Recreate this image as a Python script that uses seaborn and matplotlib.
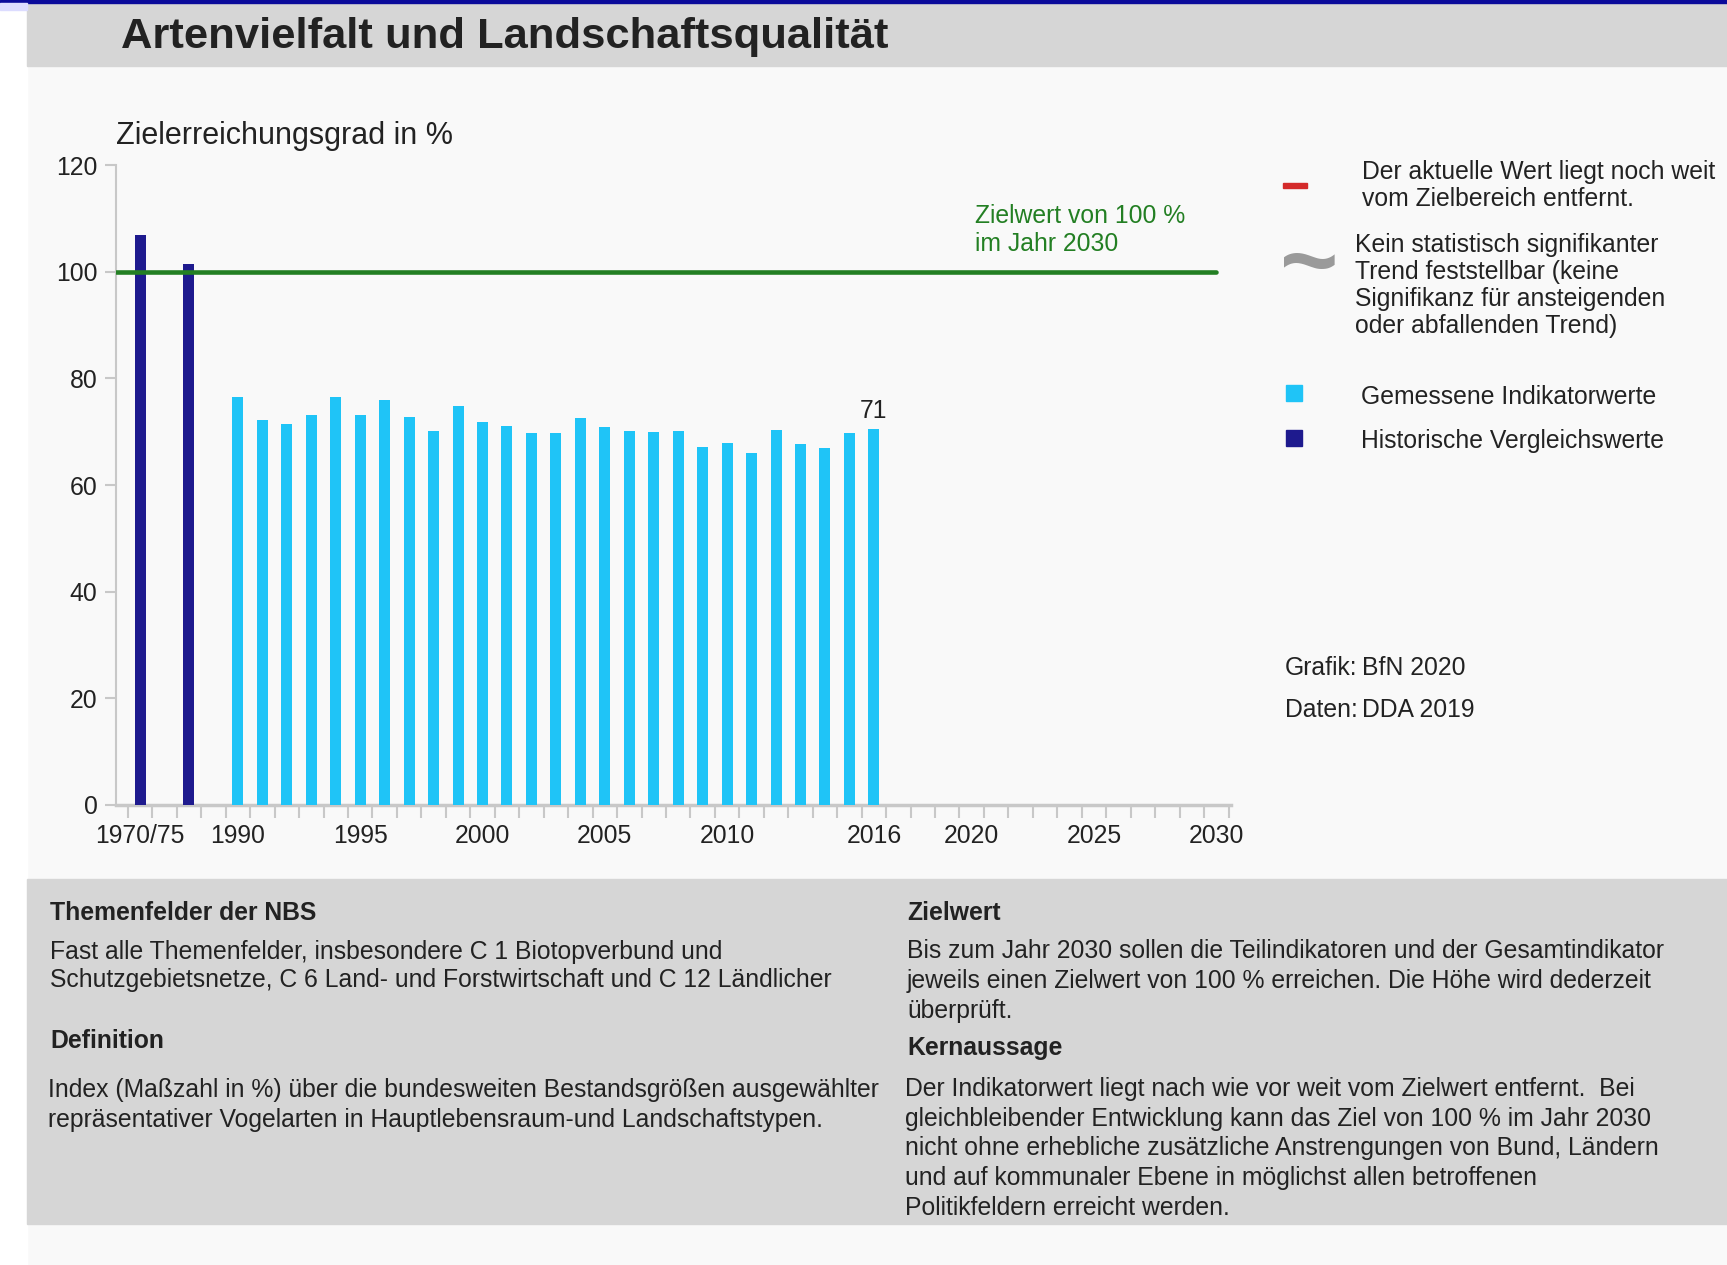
import pandas as pd
import numpy as np
import matplotlib.pyplot as plt
import seaborn as sns

# Indicator values (Zielerreichungsgrad in %)
hist_labels = ['1970', '1975']
hist_values = [107.0, 101.4]
years = list(range(1990, 2017))
values = [76.6, 72.3, 71.4, 73.1, 76.6, 73.1, 76.0, 72.8, 70.1, 74.8,
          71.9, 71.0, 69.7, 69.7, 72.5, 70.9, 70.1, 70.0, 70.2, 67.1,
          67.9, 66.1, 70.3, 67.8, 66.9, 69.8, 70.5]
target_value = 100
last_label = '71'
tick_years = ['1970/75', '1990', '1995', '2000', '2005', '2010', '2016', '2020', '2025', '2030']

# historic values sit left of 1990 on the time axis
hist_pos = [1986, 1988]
tick_pos = [1986, 1990, 1995, 2000, 2005, 2010, 2016, 2020, 2025, 2030]

df = pd.DataFrame({
    'pos': hist_pos + years,
    'wert': hist_values + values,
    'reihe': ['Historische Vergleichswerte'] * 2 + ['Gemessene Indikatorwerte'] * len(years),
})

NAVY = '#1e1a8e'
CYAN = '#1fc4f7'
GREEN = '#237f23'
BG = '#f9f9f9'
PANEL = '#d6d6d6'
TXT = '#222222'
FS = 17.8

sns.set_theme(style='white')
plt.rcParams['font.family'] = ['Liberation Sans', 'DejaVu Sans']

W, H = 1727, 1265
fig = plt.figure(figsize=(W / 100, H / 100), dpi=100, facecolor=BG)


def fx(x):
    return x / W


def fy(y):
    return 1 - y / H


# page decoration
fig.patches.append(plt.Rectangle((0, 0), fx(27), 1, transform=fig.transFigure, color='white', zorder=0))
fig.patches.append(plt.Rectangle((fx(27), fy(66)), 1, 63 / H, transform=fig.transFigure, color=PANEL, zorder=0))
fig.patches.append(plt.Rectangle((0, fy(3)), 1, 3 / H, transform=fig.transFigure, color='#0a0a9a', zorder=1))
fig.patches.append(plt.Rectangle((0, fy(10)), fx(27), 7 / H, transform=fig.transFigure, color='#dcdcff', zorder=1))
fig.patches.append(plt.Rectangle((fx(27), fy(1224)), 1, 345 / H, transform=fig.transFigure, color=PANEL, zorder=0))

fig.text(fx(121), fy(37), 'Artenvielfalt und Landschaftsqualität', fontsize=31.3, fontweight='bold',
         color=TXT, va='center', ha='left')

# main axes
ax = fig.add_axes([fx(115.6), fy(805), fx(1231 - 115.6), (805 - 165.2) / H])
ax.set_facecolor(BG)
sns.barplot(data=df, x='pos', y='wert', hue='reihe', native_scale=True, width=0.45,
            palette={'Historische Vergleichswerte': NAVY, 'Gemessene Indikatorwerte': CYAN},
            dodge=False, legend=False, saturation=1, ax=ax, zorder=3)
for p in ax.patches:
    p.set_edgecolor('none')

ax.plot([1985, 2030], [target_value, target_value], color=GREEN, lw=3.3, zorder=4)
ax.text(2016, values[-1] + 1.1, last_label, ha='center', va='bottom', fontsize=FS, color=TXT)
ax.text(2020.15, 103.0, 'Zielwert von 100 %\nim Jahr 2030', ha='left', va='bottom', fontsize=FS,
        color=GREEN, linespacing=1.2)

ax.set_xlim(1985, 2030.6)
ax.set_ylim(0, 120)
ax.set_yticks(range(0, 121, 20))
ax.set_xticks(tick_pos)
ax.set_xticklabels(tick_years)
ax.set_xticks(np.arange(1985.5, 2031, 1.0), minor=True)
ax.tick_params(axis='x', which='major', length=0, pad=14, labelsize=FS, labelcolor=TXT, bottom=True)
ax.tick_params(axis='x', which='minor', length=9, width=1.5, color='#c8c8c8', direction='out', bottom=True)
ax.tick_params(axis='y', length=8, width=1.5, color='#c8c8c8', pad=5, labelsize=FS, labelcolor=TXT, left=True)
ax.set_xlabel('')
ax.set_ylabel('')
for s in ['top', 'right']:
    ax.spines[s].set_visible(False)
ax.spines['left'].set_color('#c8c8c8')
ax.spines['left'].set_linewidth(1.5)
ax.spines['bottom'].set_color('#c8c8c8')
ax.spines['bottom'].set_linewidth(2.5)

fig.text(fx(116), fy(136), 'Zielerreichungsgrad in %', fontsize=22, color=TXT, va='center', ha='left')

# legend / notes on the right
fig.patches.append(plt.Rectangle((fx(1283), fy(188)), fx(24), 5 / H, transform=fig.transFigure,
                                 color='#d42a2a', zorder=2))
fig.text(fx(1362), fy(160.5), 'Der aktuelle Wert liegt noch weit\nvom Zielbereich entfernt.', fontsize=FS,
         color=TXT, va='top', ha='left', linespacing=1.15)
fig.text(fx(1309), fy(268), '~', fontsize=72, fontweight='bold', color='#9a9a9a', va='center', ha='center')
fig.text(fx(1355), fy(233.3), 'Kein statistisch signifikanter\nTrend feststellbar (keine\n'
         'Signifikanz für ansteigenden\noder abfallenden Trend)', fontsize=FS, color=TXT,
         va='top', ha='left', linespacing=1.15)
fig.patches.append(plt.Rectangle((fx(1286), fy(401)), fx(16), 16 / H, transform=fig.transFigure,
                                 color=CYAN, zorder=2))
fig.text(fx(1361), fy(397), 'Gemessene Indikatorwerte', fontsize=FS, color=TXT, va='center', ha='left')
fig.patches.append(plt.Rectangle((fx(1286), fy(446)), fx(16), 16 / H, transform=fig.transFigure,
                                 color=NAVY, zorder=2))
fig.text(fx(1361), fy(441), 'Historische Vergleichswerte', fontsize=FS, color=TXT, va='center', ha='left')

fig.text(fx(1285), fy(668), 'Grafik:', fontsize=FS, color=TXT, va='center', ha='left')
fig.text(fx(1362), fy(668), 'BfN 2020', fontsize=FS, color=TXT, va='center', ha='left')
fig.text(fx(1285), fy(710), 'Daten:', fontsize=FS, color=TXT, va='center', ha='left')
fig.text(fx(1362), fy(710), 'DDA 2019', fontsize=FS, color=TXT, va='center', ha='left')

# bottom info panel
body = dict(fontsize=FS, color=TXT, ha='left', va='top')
head = dict(fontsize=FS, color=TXT, ha='left', va='center', fontweight='bold')
fig.text(fx(50), fy(913), 'Themenfelder der NBS', **head)
fig.text(fx(50), fy(940), 'Fast alle Themenfelder, insbesondere C 1 Biotopverbund und\n'
         'Schutzgebietsnetze, C 6 Land- und Forstwirtschaft und C 12 Ländlicher', linespacing=1.2, **body)
fig.text(fx(50), fy(1041), 'Definition', **head)
fig.text(fx(48), fy(1078), 'Index (Maßzahl in %) über die bundesweiten Bestandsgrößen ausgewählter\n'
         'repräsentativer Vogelarten in Hauptlebensraum-und Landschaftstypen.', linespacing=1.3, **body)
fig.text(fx(907), fy(913), 'Zielwert', **head)
fig.text(fx(907), fy(939.5), 'Bis zum Jahr 2030 sollen die Teilindikatoren und der Gesamtindikator\n'
         'jeweils einen Zielwert von 100 % erreichen. Die Höhe wird dederzeit\nüberprüft.',
         linespacing=1.3, **body)
fig.text(fx(907), fy(1048), 'Kernaussage', **head)
fig.text(fx(905), fy(1077), 'Der Indikatorwert liegt nach wie vor weit vom Zielwert entfernt.  Bei\n'
         'gleichbleibender Entwicklung kann das Ziel von 100 % im Jahr 2030\n'
         'nicht ohne erhebliche zusätzliche Anstrengungen von Bund, Ländern\n'
         'und auf kommunaler Ebene in möglichst allen betroffenen\nPolitikfeldern erreicht werden.',
         linespacing=1.3, **body)

fig.savefig('out.png', dpi=100, facecolor=BG)
